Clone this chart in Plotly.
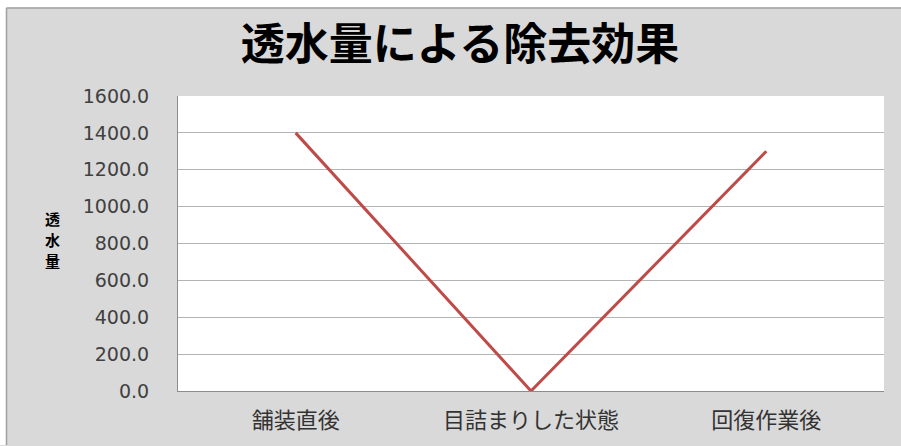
import plotly.graph_objects as go

categories = ["舗装直後", "目詰まりした状態", "回復作業後"]
values = [1400.0, 0.0, 1300.0]
y_ticks = [0, 200, 400, 600, 800, 1000, 1200, 1400, 1600]
y_title_chars = ["透", "水", "量"]

W, H = 901, 446
L, R, T, B = 178, 17, 96, 50
pw, ph = W - L - R, H - T - B

def px_x(x):
    return (x - L) / pw

def px_y(y):
    return (H - B - y) / ph

jp = "Noto Sans CJK JP"

fig = go.Figure()
fig.add_trace(go.Scatter(
    x=categories, y=values, mode="lines",
    line=dict(color="#be4b48", width=3),
    showlegend=False, hoverinfo="skip",
))

annotations = []
for i, ch in enumerate(y_title_chars):
    annotations.append(dict(
        text="<b>" + ch + "</b>",
        xref="paper", yref="paper",
        x=px_x(52), y=px_y(221 + 21 * i),
        xanchor="center", yanchor="middle",
        showarrow=False,
        font=dict(family=jp, size=15, color="#000000"),
    ))

fig.update_layout(
    width=W, height=H,
    margin=dict(l=L, r=R, t=T, b=B),
    paper_bgcolor="#d9d9d9",
    plot_bgcolor="#ffffff",
    hovermode=False,
    title=dict(
        text="<b>透水量による除去効果</b>",
        font=dict(family=jp, size=44, color="#000000"),
        x=460 / W, xanchor="center",
        y=1 - 45 / H, yanchor="middle", yref="container",
    ),
    xaxis=dict(
        type="category",
        range=[-0.5, 2.5],
        showgrid=False,
        showline=True, linecolor="#8c8c8c", linewidth=1,
        ticks="outside", ticklen=10, tickcolor="rgba(0,0,0,0)",
        tickfont=dict(family=jp, size=22, color="#333333"),
        fixedrange=True,
    ),
    yaxis=dict(
        range=[0, 1600],
        tickvals=y_ticks,
        tickformat=".1f",
        showgrid=True, gridcolor="#b4b4b4", gridwidth=1,
        showline=True, linecolor="#8c8c8c", linewidth=1,
        zeroline=False,
        ticks="outside", ticklen=24, tickcolor="rgba(0,0,0,0)",
        tickfont=dict(family="DejaVu Sans", size=19, color="#404040"),
        fixedrange=True,
    ),
    annotations=annotations,
    shapes=[
        dict(type="rect", xref="paper", yref="paper",
             x0=px_x(-5), x1=px_x(W + 5), y0=px_y(-5), y1=px_y(6),
             fillcolor="#ffffff", line=dict(width=0), layer="above"),
        dict(type="rect", xref="paper", yref="paper",
             x0=px_x(-5), x1=px_x(6), y0=px_y(H + 5), y1=px_y(-5),
             fillcolor="#ffffff", line=dict(width=0), layer="above"),
        dict(type="line", xref="paper", yref="paper",
             x0=px_x(6.5), x1=px_x(W + 5), y0=px_y(6.5), y1=px_y(6.5),
             line=dict(color="#a0a0a0", width=1.5)),
        dict(type="line", xref="paper", yref="paper",
             x0=px_x(6.5), x1=px_x(6.5), y0=px_y(6.5), y1=px_y(H + 5),
             line=dict(color="#a0a0a0", width=1.5)),
    ],
)

fig.write_html(
    "out.html",
    config={"displayModeBar": False, "staticPlot": True},
    post_script="document.body.style.margin='0';document.body.style.overflow='hidden';",
)
